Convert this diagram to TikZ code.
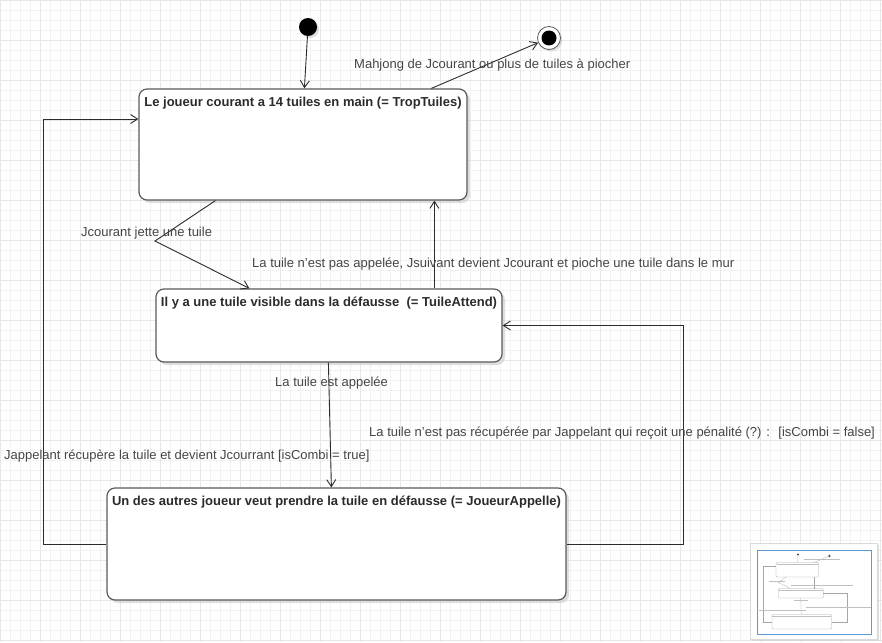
\documentclass[tikz,border=0pt]{standalone}
\usepackage{fontspec}
\setmainfont{Liberation Sans}
\usetikzlibrary{arrows.meta}
\usetikzlibrary{positioning}
\usetikzlibrary{calc}
\usetikzlibrary{shadows}
\definecolor{UML_gris_1}{HTML}{2B2B2B}
\definecolor{UML_gris_2}{HTML}{5A5A5A}
\definecolor{UML_texte}{HTML}{454545}
\definecolor{UML_ombre}{HTML}{D0D0D0}
\definecolor{UML_grille_1}{HTML}{F2F2F2}
\definecolor{UML_grille_2}{HTML}{E7E7E7}
\definecolor{UML_bleu_1}{HTML}{5B9BD5}
\begin{document}
\begin{tikzpicture}[x=1pt, y=-1pt, font=\fontsize{13}{15}\selectfont,
  etat/.style={draw=UML_gris_2, line width=1.2pt, rectangle, rounded corners=8pt, fill=white, drop shadow={shadow xshift=3pt, shadow yshift=-3pt, fill=UML_ombre, opacity=0.7}},
  titre/.style={font=\fontsize{13}{15}\selectfont\bfseries, text=UML_gris_1, anchor=north, inner sep=0pt, yshift=-8pt},
  transition/.style={draw=UML_gris_1, line width=0.9pt, -{Straight Barb[length=7pt, width=9pt]}},
  etiquette/.style={anchor=west, inner sep=0pt, text=UML_texte},
  mini/.style={draw=black!35, line width=0.25pt}]
\useasboundingbox (0,0) rectangle (882,642);
\fill[white] (0,0) rectangle (882,642);
\draw[step=10pt, UML_grille_1, line width=0.5pt] (0,0) grid (882,642);
\draw[step=40pt, UML_grille_2, line width=0.5pt] (0,0) grid (882,642);

\node[circle, fill=black, minimum size=18pt, inner sep=0pt, drop shadow={shadow xshift=2pt, shadow yshift=-2pt, fill=UML_ombre, opacity=0.7}] (initial) at (308,27) {};
\node[circle, draw=UML_gris_2, line width=0.8pt, fill=white, minimum size=23pt, inner sep=0pt, drop shadow={shadow xshift=2pt, shadow yshift=-2pt, fill=UML_ombre, opacity=0.7}] (final) at (549,38) {};
\fill[black] (final) circle (7.5pt);

\node[etat, minimum width=328pt, minimum height=111pt, label={[titre]north:Le joueur courant a 14 tuiles en main (= TropTuiles)}] (troptuiles) at (303,144.5) {};
\node[etat, minimum width=346pt, minimum height=73pt, label={[titre]north:Il y a une tuile visible dans la défausse~ (= TuileAttend)}] (tuileattend) at (329,325.5) {};
\node[etat, minimum width=459pt, minimum height=112pt, label={[titre]north:Un des autres joueur veut prendre la tuile en défausse (= JoueurAppelle)}] (joueurappelle) at (336.5,544) {};

\coordinate (coude) at (155,241);
\coordinate (gauchehaut) at (43,119);
\coordinate (droitehaut) at (683,325.5);

\draw[transition] (initial) -- ($ (troptuiles.north west) + (166,0) $);
\draw[transition] ($ (troptuiles.north west) + (293,0) $) -- (final);
\draw[transition] ($ (troptuiles.south west) + (77,0) $) -- (coude) -- ($ (tuileattend.north west) + (94,0) $);
\draw[transition] ($ (tuileattend.north west) + (279,0) $) -- ($ (troptuiles.south west) + (296,0) $);
\draw[transition] ($ (tuileattend.south west) + (173,0) $) -- ($ (joueurappelle.north west) + (225,0) $);
\draw[transition] (joueurappelle.west) -| (gauchehaut) -- (troptuiles.west |- gauchehaut);
\draw[transition] (joueurappelle.east) -| (droitehaut) -- (tuileattend.east);

\node[etiquette] (mahjong) at (354,65.5) {Mahjong de Jcourant ou plus de tuiles à piocher};
\node[etiquette] (jette) at (81,233.5) {Jcourant jette une tuile};
\node[etiquette] (pasappelee) at (252,264.5) {La tuile n'est pas appelée, Jsuivant devient Jcourant et pioche une tuile dans le mur};
\node[etiquette] (appelee) at (275,383.5) {La tuile est appelée};
\node[etiquette] (pasrecuperee) at (369,433.5) {La tuile n'est pas récupérée par Jappelant qui reçoit une pénalité (?) :~ [isCombi = false]};
\node[etiquette] (recupere) at (4,456.5) {Jappelant récupère la tuile et devient Jcourrant [isCombi = true]};

%\draw[step=100pt, very thin, red] (0,0) grid (882,642);
\draw[fill=white, draw=black!15, drop shadow={shadow xshift=2pt, shadow yshift=-2pt, fill=UML_ombre, opacity=0.7}] (750,543) rectangle (877,639);
\draw[UML_bleu_1, line width=0.8pt] (757,550) rectangle (871,634);
\begin{scope}[shift={(758,551)}, scale=0.13]
\fill[black!70] (308,27) circle (9);
\draw[mini] (549,38) circle (11.5);
\fill[black!70] (549,38) circle (7.5);
\draw[mini, rounded corners=1pt] (139,89) rectangle (467,200);
\draw[mini, rounded corners=1pt] (156,289) rectangle (502,362);
\draw[mini, rounded corners=1pt] (107,488) rectangle (566,600);
\draw[mini] (307,36) -- (305,89);
\draw[mini] (432,89) -- (538,43);
\draw[mini] (216,200) -- (155,241) -- (250,289);
\draw[mini] (435,289) -- (435,200);
\draw[mini] (329,362) -- (332,488);
\draw[mini] (107,544) -- (43,544) -- (43,119) -- (139,119);
\draw[mini] (566,544) -- (683,544) -- (683,325) -- (502,325);
\draw[black!25, line width=0.4pt] (144,101) -- (462,101) (160,301) -- (497,301) (110,500) -- (562,500);
\draw[black!25, line width=0.4pt] (354,64) -- (630,64) (81,232) -- (211,232) (252,263) -- (733,263) (275,382) -- (388,382) (369,432) -- (872,432) (4,455) -- (367,455);
\end{scope}
\end{tikzpicture}
\end{document}
